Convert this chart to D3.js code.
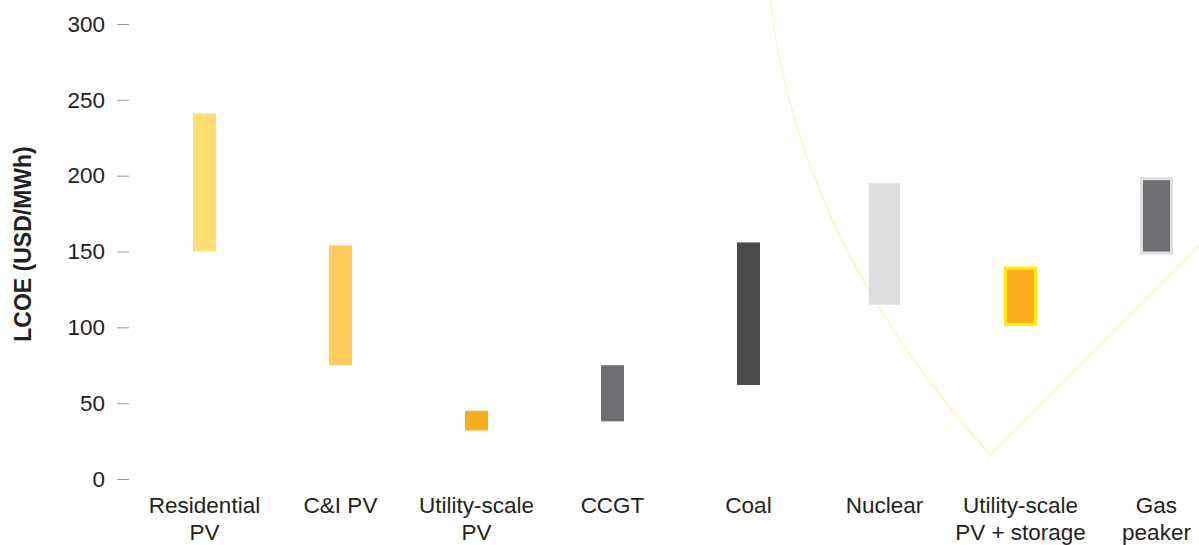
<!DOCTYPE html>
<html>
<head>
<meta charset="utf-8">
<script src="https://cdn.jsdelivr.net/npm/d3@7"></script>
<style>
  html, body { margin: 0; padding: 0; background: #ffffff; }
  svg { display: block; }
  text { font-family: "Liberation Sans", Arial, Helvetica, sans-serif; fill: #231f20; }
</style>
</head>
<body>
<svg id="chart" width="1199" height="545"></svg>
<script>
// ---- data ----
const categories = ["Residential PV", "C&I PV", "Utility-scale PV", "CCGT", "Coal", "Nuclear", "Utility-scale PV + storage", "Gas peaker"];
const labelLines = [["Residential", "PV"], ["C&I PV"], ["Utility-scale", "PV"], ["CCGT"], ["Coal"], ["Nuclear"], ["Utility-scale", "PV + storage"], ["Gas", "peaker"]];
const lowValues  = [150, 75, 32, 38, 62, 115, 102, 149];
const highValues = [241, 154, 45, 75, 156, 195, 139, 198];
const yTicks = [0, 50, 100, 150, 200, 250, 300];
const yLabel = "LCOE (USD/MWh)";

// ---- styles (kept apart from data) ----
const fills   = ["#ffde73", "#ffcc5b", "#f9ae1c", "#6d6e71", "#4b4b4d", "#dcddde", "#f9b01c", "#6d6e71"];
const strokes = [null, null, null, null, null, null, "#ffed00", "#dfe0e1"];
const barWidths = [23, 23, 23, 23, 23, 31, 30, 30];

const svg = d3.select("#chart");

const x = d3.scaleBand().domain(categories).range([136.5, 1224.5]).padding(0);
const y = d3.scaleLinear().domain([0, 300]).range([479, 24]);

// decorative background curve (not data)
const deco = d3.path();
deco.moveTo(770, 0);
deco.quadraticCurveTo(799, 243, 990.5, 455);
deco.lineTo(1199, 246.5);
svg.append("path")
  .attr("d", deco.toString())
  .attr("fill", "none")
  .attr("stroke", "#fff5b8")
  .attr("stroke-width", 1.5);

// y axis
const yAxis = d3.axisLeft(y).tickValues(yTicks).tickSize(12).tickPadding(12).tickFormat(d3.format("d"));
const gy = svg.append("g").attr("transform", "translate(129,0)").call(yAxis);
gy.select(".domain").remove();
gy.selectAll(".tick line").attr("stroke", "#9a9a9c").attr("stroke-width", 1);
gy.selectAll(".tick text")
  .attr("font-size", 22.5)
  .attr("fill", "#231f20")
  .style("font-family", "'Liberation Sans', Arial, sans-serif");

// y label
svg.append("text")
  .attr("transform", `translate(31,${244}) rotate(-90)`)
  .attr("text-anchor", "middle")
  .attr("font-size", 23)
  .attr("font-weight", "bold")
  .text(yLabel);

// bars
const data = categories.map((c, i) => ({ c, lo: lowValues[i], hi: highValues[i], i }));
svg.append("g").selectAll("rect")
  .data(data)
  .join("rect")
  .attr("x", d => x(d.c) + x.bandwidth() / 2 - barWidths[d.i] / 2)
  .attr("width", d => barWidths[d.i])
  .attr("y", d => y(d.hi))
  .attr("height", d => y(d.lo) - y(d.hi))
  .attr("fill", d => fills[d.i])
  .attr("stroke", d => strokes[d.i] || "none")
  .attr("stroke-width", d => strokes[d.i] ? 3 : 0);

// x labels
const xl = svg.append("g");
data.forEach(d => {
  const t = xl.append("text")
    .attr("x", x(d.c) + x.bandwidth() / 2)
    .attr("y", 513)
    .attr("text-anchor", "middle")
    .attr("font-size", 22.5);
  labelLines[d.i].forEach((line, k) => {
    t.append("tspan")
      .attr("x", x(d.c) + x.bandwidth() / 2)
      .attr("dy", k === 0 ? 0 : 27)
      .text(line);
  });
});
</script>
</body>
</html>
